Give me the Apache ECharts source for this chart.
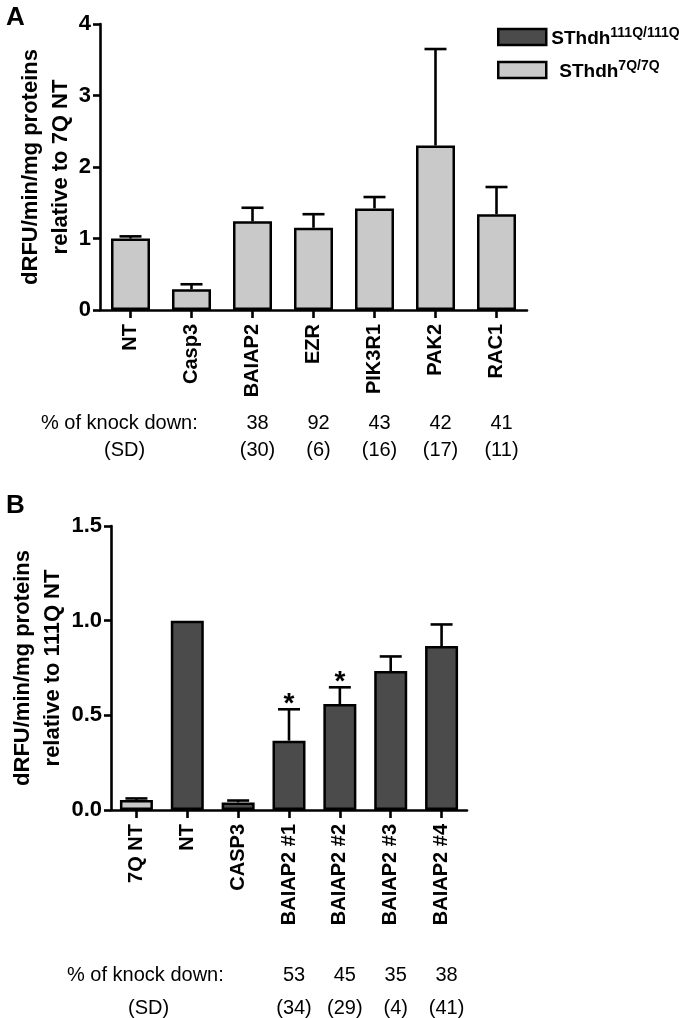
<!DOCTYPE html>
<html><head><meta charset="utf-8">
<script src="https://cdn.jsdelivr.net/npm/echarts@6/dist/echarts.min.js"></script>
<style>html,body{margin:0;padding:0;background:#fff}#c{width:693px;height:1018px}</style>
</head><body><div id="c"></div>
<script>
// ---- Panel A data ----
const catsA = ['NT', 'Casp3', 'BAIAP2', 'EZR', 'PIK3R1', 'PAK2', 'RAC1'];
const valsA = [1.00, 0.29, 1.24, 1.15, 1.42, 2.30, 1.34];
const errA  = [0.03, 0.07, 0.19, 0.19, 0.16, 1.35, 0.38];
const kdA   = ['', '', '38', '92', '43', '42', '41'];
const sdA   = ['', '', '(30)', '(6)', '(16)', '(17)', '(11)'];
const ticksA = [0, 1, 2, 3, 4];

// ---- Panel B data ----
const catsB = ['7Q NT', 'NT', 'CASP3', 'BAIAP2 #1', 'BAIAP2 #2', 'BAIAP2 #3', 'BAIAP2 #4'];
const valsB = [0.053, 1.00, 0.04, 0.366, 0.56, 0.734, 0.866];
const errB  = [0.008, 0, 0.01, 0.166, 0.088, 0.077, 0.114];
const sigB  = [0, 0, 0, 1, 1, 0, 0];
const lineB = ['7Q', '111Q', '111Q', '111Q', '111Q', '111Q', '111Q'];
const kdB   = ['', '', '', '53', '45', '35', '38'];
const sdB   = ['', '', '', '(34)', '(29)', '(4)', '(41)'];
const ticksB = [0, 0.5, 1.0, 1.5];

const F = 'Liberation Sans, Arial, sans-serif';
const LIGHT = '#c9c9c9', DARK = '#4b4b4b';
const colorOf = {'7Q': LIGHT, '111Q': DARK};

const chart = echarts.init(document.getElementById('c'));

function errSeries(xi, yi, vals, errs, sig) {
  return {
    type: 'custom', xAxisIndex: xi, yAxisIndex: yi, z: 5, silent: true,
    data: vals.map((v, i) => [i, v, errs[i], sig ? sig[i] : 0]),
    renderItem: function (params, api) {
      const x = api.value(0), v = api.value(1), e = api.value(2), s = api.value(3);
      const children = [];
      const p0 = api.coord([x, v]);
      const p1 = api.coord([x, v + e]);
      if (e > 0) {
        children.push({type: 'line', shape: {x1: p0[0], y1: p0[1], x2: p1[0], y2: p1[1]},
          style: {stroke: '#000', lineWidth: 2.6}});
        children.push({type: 'line', shape: {x1: p1[0] - 11, y1: p1[1], x2: p1[0] + 11, y2: p1[1]},
          style: {stroke: '#000', lineWidth: 2.6}});
      }
      if (s) {
        children.push({type: 'text', x: p1[0], y: p1[1] - 5,
          style: {text: '*', font: 'bold 28px ' + F, fill: '#000', align: 'center', verticalAlign: 'middle'}});
      }
      return {type: 'group', children: children};
    }
  };
}

function catAxis(gi, data, extra) {
  return Object.assign({
    type: 'category', gridIndex: gi, data: data, position: 'bottom',
    axisLine: {show: true, lineStyle: {color: '#000', width: 2.6}},
    axisTick: {show: true, alignWithLabel: true, length: 8, lineStyle: {color: '#000', width: 2.6}},
    axisLabel: {rotate: 90, margin: 14, fontFamily: F, fontWeight: 'bold', fontSize: 20, color: '#000', interval: 0},
    splitLine: {show: false}
  }, extra || {});
}
function rowAxis(gi, data, offset) {
  return {
    type: 'category', gridIndex: gi, data: data, position: 'bottom', offset: offset,
    axisLine: {show: false}, axisTick: {show: false}, splitLine: {show: false},
    axisLabel: {margin: 0, interval: 0, fontFamily: F, fontSize: 20, color: '#000', padding: [0, 0, 0, 10]}
  };
}
function valAxis(gi, ticks, fmt, name, gap) {
  return {
    type: 'value', gridIndex: gi, min: ticks[0], max: ticks[ticks.length - 1], interval: ticks[1] - ticks[0],
    axisLine: {show: true, lineStyle: {color: '#000', width: 2.6}},
    axisTick: {show: true, length: 7, lineStyle: {color: '#000', width: 2.6}},
    axisLabel: {margin: 9, fontFamily: F, fontWeight: 'bold', fontSize: 22, color: '#000', formatter: fmt},
    splitLine: {show: false},
    name: name, nameLocation: 'middle', nameGap: gap, nameMoveOverlap: false,
    nameTextStyle: {fontFamily: F, fontWeight: 'bold', fontSize: 22, lineHeight: 30, color: '#000', align: 'center'}
  };
}

const option = {
  backgroundColor: '#fff',
  animation: false,
  title: [
    {text: 'A', left: 1, top: 0, textStyle: {fontFamily: F, fontWeight: 'bold', fontSize: 26, color: '#000'}},
    {text: 'B', left: 1, top: 488, textStyle: {fontFamily: F, fontWeight: 'bold', fontSize: 26, color: '#000'}}
  ],
  legend: {
    orient: 'vertical', left: 492, top: 21, itemWidth: 48, itemHeight: 16, itemGap: 11,
    icon: 'rect', selectedMode: false,
    data: [
      {name: '111Q', itemStyle: {color: DARK, borderColor: '#000', borderWidth: 2.5}},
      {name: '7Q', itemStyle: {color: LIGHT, borderColor: '#000', borderWidth: 2.5}}
    ],
    formatter: function (n) {
      return n === '111Q' ? '{m|SThdh}{s|111Q/111Q}' : '{p|}{m|SThdh}{s|7Q/7Q}';
    },
    textStyle: {
      rich: {
        m: {fontFamily: F, fontWeight: 'bold', fontSize: 19, color: '#000', lineHeight: 22, verticalAlign: 'bottom'},
        s: {fontFamily: F, fontWeight: 'bold', fontSize: 14, color: '#000', lineHeight: 22, verticalAlign: 'top'},
        p: {width: 8}
      }
    }
  },
  grid: [
    {left: 100, top: 24, width: 427, height: 286},
    {left: 100, top: 526, width: 367, height: 284}
  ],
  xAxis: [
    catAxis(0, catsA),
    catAxis(1, catsB),
    rowAxis(0, kdA, 103),
    rowAxis(0, sdA, 130),
    rowAxis(1, kdB, 155),
    rowAxis(1, sdB, 188)
  ],
  yAxis: [
    valAxis(0, ticksA, v => String(v), 'dRFU/min/mg proteins\nrelative to 7Q NT', 24),
    valAxis(1, ticksB, v => v.toFixed(1), 'dRFU/min/mg proteins\nrelative to 111Q NT', 43)
  ],
  graphic: [
    {type: 'text', left: 41, top: 413, style: {text: '% of knock down:', font: '20px ' + F, fill: '#000'}},
    {type: 'text', left: 104, top: 440, style: {text: '(SD)', font: '20px ' + F, fill: '#000'}},
    {type: 'text', left: 67, top: 965, style: {text: '% of knock down:', font: '20px ' + F, fill: '#000'}},
    {type: 'text', left: 128, top: 998, style: {text: '(SD)', font: '20px ' + F, fill: '#000'}}
  ],
  series: [
    {
      name: '7Q', type: 'bar', xAxisIndex: 0, yAxisIndex: 0, barWidth: 39, z: 2,
      itemStyle: {color: LIGHT, borderColor: '#000', borderWidth: 2.5},
      data: valsA
    },
    {
      name: '111Q', type: 'bar', xAxisIndex: 1, yAxisIndex: 1, barWidth: 33, z: 2,
      itemStyle: {color: DARK, borderColor: '#000', borderWidth: 2.5},
      data: valsB.map((v, i) => ({value: v, itemStyle: {color: colorOf[lineB[i]]}}))
    },
    errSeries(0, 0, valsA, errA, null),
    errSeries(1, 1, valsB, errB, sigB)
  ]
};
chart.setOption(option);
</script>
</body></html>
